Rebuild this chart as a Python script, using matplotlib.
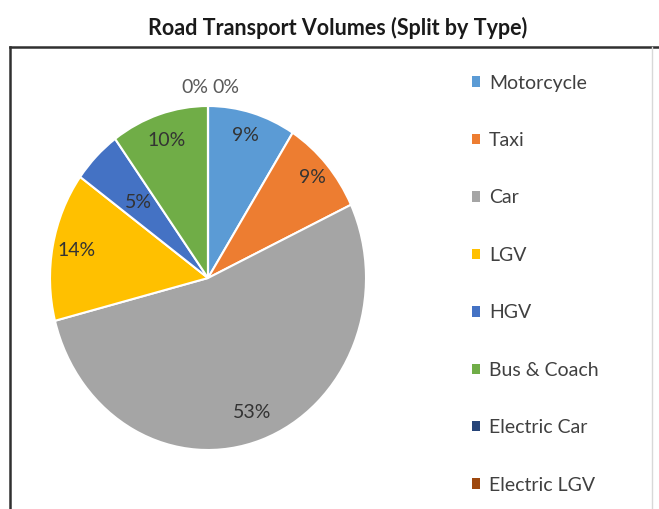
import numpy as np
import matplotlib.pyplot as plt
from matplotlib.patches import Patch
from matplotlib.lines import Line2D

# data
categories = ['Motorcycle', 'Taxi', 'Car', 'LGV', 'HGV', 'Bus & Coach',
              'Electric Car', 'Electric LGV']
shares = [9, 9, 53, 14, 5, 10, 0, 0]
colors = ['#5B9BD5', '#ED7D31', '#A5A5A5', '#FFC000', '#4472C4', '#70AD47',
          '#264478', '#9E480E']

plt.rcParams['font.family'] = ['Lato', 'DejaVu Sans']

fig = plt.figure(figsize=(6.59, 5.09), dpi=100)

# chart frame: dark left and top edges, faint right edge
top = 1 - 47 / 509
fig.add_artist(Line2D([10 / 659, 10 / 659], [-0.05, top],
                      transform=fig.transFigure, color='#303030', lw=1.8))
fig.add_artist(Line2D([10 / 659, 1.0], [top, top],
                      transform=fig.transFigure, color='#303030', lw=1.8))
fig.add_artist(Line2D([652 / 659, 652 / 659], [-0.05, top],
                      transform=fig.transFigure, color='#d8d8d8', lw=1.0))

fig.text(338 / 659, 1 - 28 / 509, 'Road Transport Volumes (Split by Type)',
         ha='center', va='center', fontsize=15.5, fontweight='bold',
         color='#1a1a1a')

ax = fig.add_axes([50 / 659, 59 / 509, 316 / 659, 344 / 509])
wedges, texts, autotexts = ax.pie(
    shares, colors=colors, startangle=90, counterclock=False,
    autopct='%1.0f%%', pctdistance=0.85,
    wedgeprops=dict(edgecolor='white', linewidth=1.5),
    textprops=dict(fontsize=14, color='#333333'))
ax.set_aspect('auto')
ax.set_xlim(-1, 1)
ax.set_ylim(-1, 1)

# label distances from centre, one per slice (Excel "best fit" look)
label_r = [0.86, 0.88, 0.83, 0.85, 0.62, 0.84, 1.11, 1.11]
for w, t, r in zip(wedges, autotexts, label_r):
    mid = np.deg2rad((w.theta1 + w.theta2) / 2)
    t.set_position((r * np.cos(mid), r * np.sin(mid)))
autotexts[6].set_ha('right')
autotexts[6].set_x(0.0)
autotexts[7].set_ha('left')
autotexts[7].set_x(0.03)
for t in autotexts[6:]:
    t.set_color('#595959')

handles = [Patch(facecolor=c, edgecolor='none') for c in colors]
fig.legend(handles, categories, loc='upper left',
           bbox_to_anchor=(454 / 659, 1 - 57 / 509), frameon=False,
           fontsize=14, labelcolor='#404040', handlelength=0.45,
           handleheight=0.45, handletextpad=0.45, labelspacing=2.08)

plt.savefig('out.png', dpi=100)
